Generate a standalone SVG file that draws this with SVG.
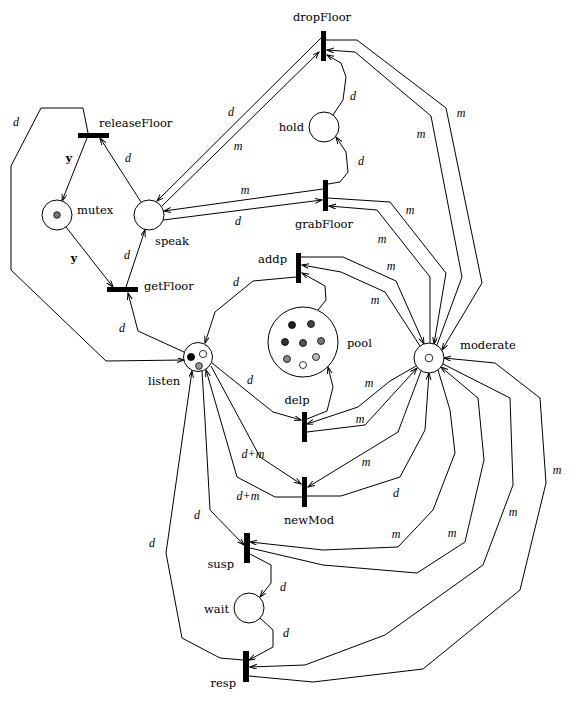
<svg xmlns="http://www.w3.org/2000/svg" width="576" height="701" viewBox="0 0 576 701">
<style>
.bg{fill:#fff}
.pl{fill:#fff;stroke:#000;stroke-width:1}
.tr{fill:#000}
.e{fill:none;stroke:#000;stroke-width:1}
.a{marker-end:url(#arr)}
.nl{font-family:"DejaVu Serif",serif;font-size:11.5px;fill:#000}
.el{font-family:"Liberation Serif",serif;font-style:italic;font-size:12px;fill:#000;text-anchor:middle}
.yl{font-family:"DejaVu Serif",serif;font-weight:bold;font-size:11px;fill:#000;text-anchor:middle}
.tk{stroke:#000;stroke-width:0.8}
</style>
<defs>
<marker id="arr" markerUnits="userSpaceOnUse" markerWidth="10" markerHeight="8" refX="7" refY="2.5" orient="auto">
<path d="M0,0 L7,2.5 L0,5" fill="none" stroke="#000" stroke-width="1"/>
</marker>
</defs>
<rect class="bg" x="0" y="0" width="576" height="701"/>
<g id="connectors">
<path class="e a" d="M87,138 L62,201"/>
<path class="e a" d="M141,202 L100,138"/>
<path class="e a" d="M88,133 L83,108 L41,108 L11,166 L11,270 L106,361 L184,360"/>
<path class="e a" d="M66,227 L113,287"/>
<path class="e a" d="M126,287 L145,230"/>
<path class="e a" d="M184,352 L138,331 L128,293"/>
<path class="e a" d="M321,38 L157,201"/>
<path class="e a" d="M162,206 L319,52"/>
<path class="e a" d="M323,189 L164,211"/>
<path class="e a" d="M163,220 L322,200"/>
<path class="e a" d="M328,184 L340,182 L348,172 L346,152 L336,137"/>
<path class="e a" d="M333,115 L343,100 L346,77 L341,63 L327,55"/>
<path class="e a" d="M326,40 L357,40 L446,108 L482,283 L442,350"/>
<path class="e a" d="M437,345 L462,277 L431,116 L355,52 L327,50"/>
<path class="e a" d="M328,198 L390,202 L446,273 L434,344"/>
<path class="e a" d="M430,343 L430,277 L377,210 L329,206"/>
<path class="e a" d="M301,257 L343,257 L396,281 L424,344"/>
<path class="e a" d="M420,346 L385,292 L341,272 L302,265"/>
<path class="e a" d="M318,310 L326,300 L325,286 L302,273"/>
<path class="e a" d="M296,277 L253,281 L215,312 L205,343"/>
<path class="e a" d="M212,363 L273,412 L301,420"/>
<path class="e a" d="M307,419 L327,411 L333,387 L328,367"/>
<path class="e a" d="M416,366 L390,381 L358,407 L307,424"/>
<path class="e a" d="M307,432 L365,425 L417,368"/>
<path class="e a" d="M421,371 L398,432 L308,487"/>
<path class="e a" d="M307,496 L341,496 L400,477 L425,430 L429,373"/>
<path class="e a" d="M211,366 L260,457 L301,484"/>
<path class="e a" d="M302,497 L275,497 L237,477 L206,370"/>
<path class="e a" d="M202,371 L205,420 L210,510 L244,545"/>
<path class="e a" d="M243,660 L220,658 L182,638 L166,553 L192,371"/>
<path class="e a" d="M250,554 L271,565 L271,583 L260,597"/>
<path class="e a" d="M260,618 L273,630 L273,647 L249,660"/>
<path class="e a" d="M438,370 L450,410 L455,453 L433,510 L398,547 L323,550 L250,542"/>
<path class="e a" d="M250,548 L323,565 L417,573 L465,542 L484,460 L478,398 L441,367"/>
<path class="e a" d="M443,364 L510,398 L513,485 L483,565 L385,635 L305,665 L250,667"/>
<path class="e a" d="M249,676 L313,682 L423,669 L520,590 L546,483 L540,398 L495,363 L444,358"/>
<text class="el" x="16" y="126">d</text>
<text class="yl" x="69" y="162">y</text>
<text class="el" x="128" y="162">d</text>
<text class="yl" x="74" y="262">y</text>
<text class="el" x="127" y="259">d</text>
<text class="el" x="122" y="332">d</text>
<text class="el" x="231" y="116">d</text>
<text class="el" x="238" y="150">m</text>
<text class="el" x="353" y="100">d</text>
<text class="el" x="361" y="165">d</text>
<text class="el" x="245" y="194">m</text>
<text class="el" x="238" y="225">d</text>
<text class="el" x="461" y="117">m</text>
<text class="el" x="421" y="138">m</text>
<text class="el" x="410" y="214">m</text>
<text class="el" x="382" y="243">m</text>
<text class="el" x="391" y="270">m</text>
<text class="el" x="375" y="304">m</text>
<text class="el" x="236" y="286">d</text>
<text class="el" x="250" y="384">d</text>
<text class="el" x="369" y="387">m</text>
<text class="el" x="360" y="423">m</text>
<text class="el" x="253" y="458">d+m</text>
<text class="el" x="366" y="466">m</text>
<text class="el" x="248" y="500">d+m</text>
<text class="el" x="396" y="497">d</text>
<text class="el" x="197" y="519">d</text>
<text class="el" x="152" y="547">d</text>
<text class="el" x="396" y="538">m</text>
<text class="el" x="452" y="537">m</text>
<text class="el" x="513" y="516">m</text>
<text class="el" x="557" y="474">m</text>
<text class="el" x="283" y="591">d</text>
<text class="el" x="286" y="637">d</text>
</g>
<g id="dropFloor"><rect class="tr" x="321" y="31" width="5" height="30"/><text class="nl" x="322" y="21" text-anchor="middle">dropFloor</text></g>
<g id="hold"><circle class="pl" cx="324" cy="127" r="15"/><text class="nl" x="304" y="131" text-anchor="end">hold</text></g>
<g id="grabFloor"><rect class="tr" x="323" y="180" width="5" height="31"/><text class="nl" x="324" y="228" text-anchor="middle">grabFloor</text></g>
<g id="releaseFloor"><rect class="tr" x="78" y="133" width="31" height="5"/><text class="nl" x="99" y="127">releaseFloor</text></g>
<g id="mutex"><circle class="pl" cx="57" cy="215" r="15"/><circle class="tk" cx="57" cy="215" r="3.3" fill="#777"/><text class="nl" x="77" y="214">mutex</text></g>
<g id="speak"><circle class="pl" cx="149" cy="215" r="15"/><text class="nl" x="155" y="245">speak</text></g>
<g id="getFloor"><rect class="tr" x="107" y="287" width="31" height="5"/><text class="nl" x="144" y="290">getFloor</text></g>
<g id="listen"><circle class="pl" cx="198" cy="357" r="14.5"/><circle class="tk" cx="191" cy="357" r="3.6" fill="#000"/><circle class="tk" cx="203" cy="354" r="3.6" fill="#fff"/><circle class="tk" cx="199" cy="366" r="3.4" fill="#999"/><text class="nl" x="148" y="385">listen</text></g>
<g id="addp"><rect class="tr" x="296" y="253" width="5" height="30"/><text class="nl" x="287" y="263" text-anchor="end">addp</text></g>
<g id="pool"><circle class="pl" cx="303" cy="342" r="35"/>
<circle class="tk" cx="292" cy="325" r="3.5" fill="#222"/>
<circle class="tk" cx="311" cy="324" r="3.5" fill="#444"/>
<circle class="tk" cx="285" cy="342" r="3.5" fill="#333"/>
<circle class="tk" cx="303" cy="343" r="3.5" fill="#555"/>
<circle class="tk" cx="321" cy="341" r="3.5" fill="#777"/>
<circle class="tk" cx="287" cy="359" r="3.5" fill="#888"/>
<circle class="tk" cx="316" cy="357" r="3.5" fill="#bbb"/>
<circle class="tk" cx="303" cy="365" r="3.5" fill="#fff"/>
<text class="nl" x="347" y="347">pool</text></g>
<g id="moderate"><circle class="pl" cx="429" cy="358" r="15"/><circle class="tk" cx="429" cy="358" r="3.8" fill="#fff"/><text class="nl" x="460" y="349">moderate</text></g>
<g id="delp"><rect class="tr" x="302" y="412" width="5" height="30"/><text class="nl" x="297" y="404" text-anchor="middle">delp</text></g>
<g id="newMod"><rect class="tr" x="302" y="477" width="5" height="30"/><text class="nl" x="309" y="524" text-anchor="middle">newMod</text></g>
<g id="susp"><rect class="tr" x="244" y="533" width="6" height="30"/><text class="nl" x="234" y="568" text-anchor="end">susp</text></g>
<g id="wait"><circle class="pl" cx="249" cy="608" r="15"/><text class="nl" x="229" y="613" text-anchor="end">wait</text></g>
<g id="resp"><rect class="tr" x="243" y="651" width="6" height="31"/><text class="nl" x="236" y="687" text-anchor="end">resp</text></g>
</svg>
